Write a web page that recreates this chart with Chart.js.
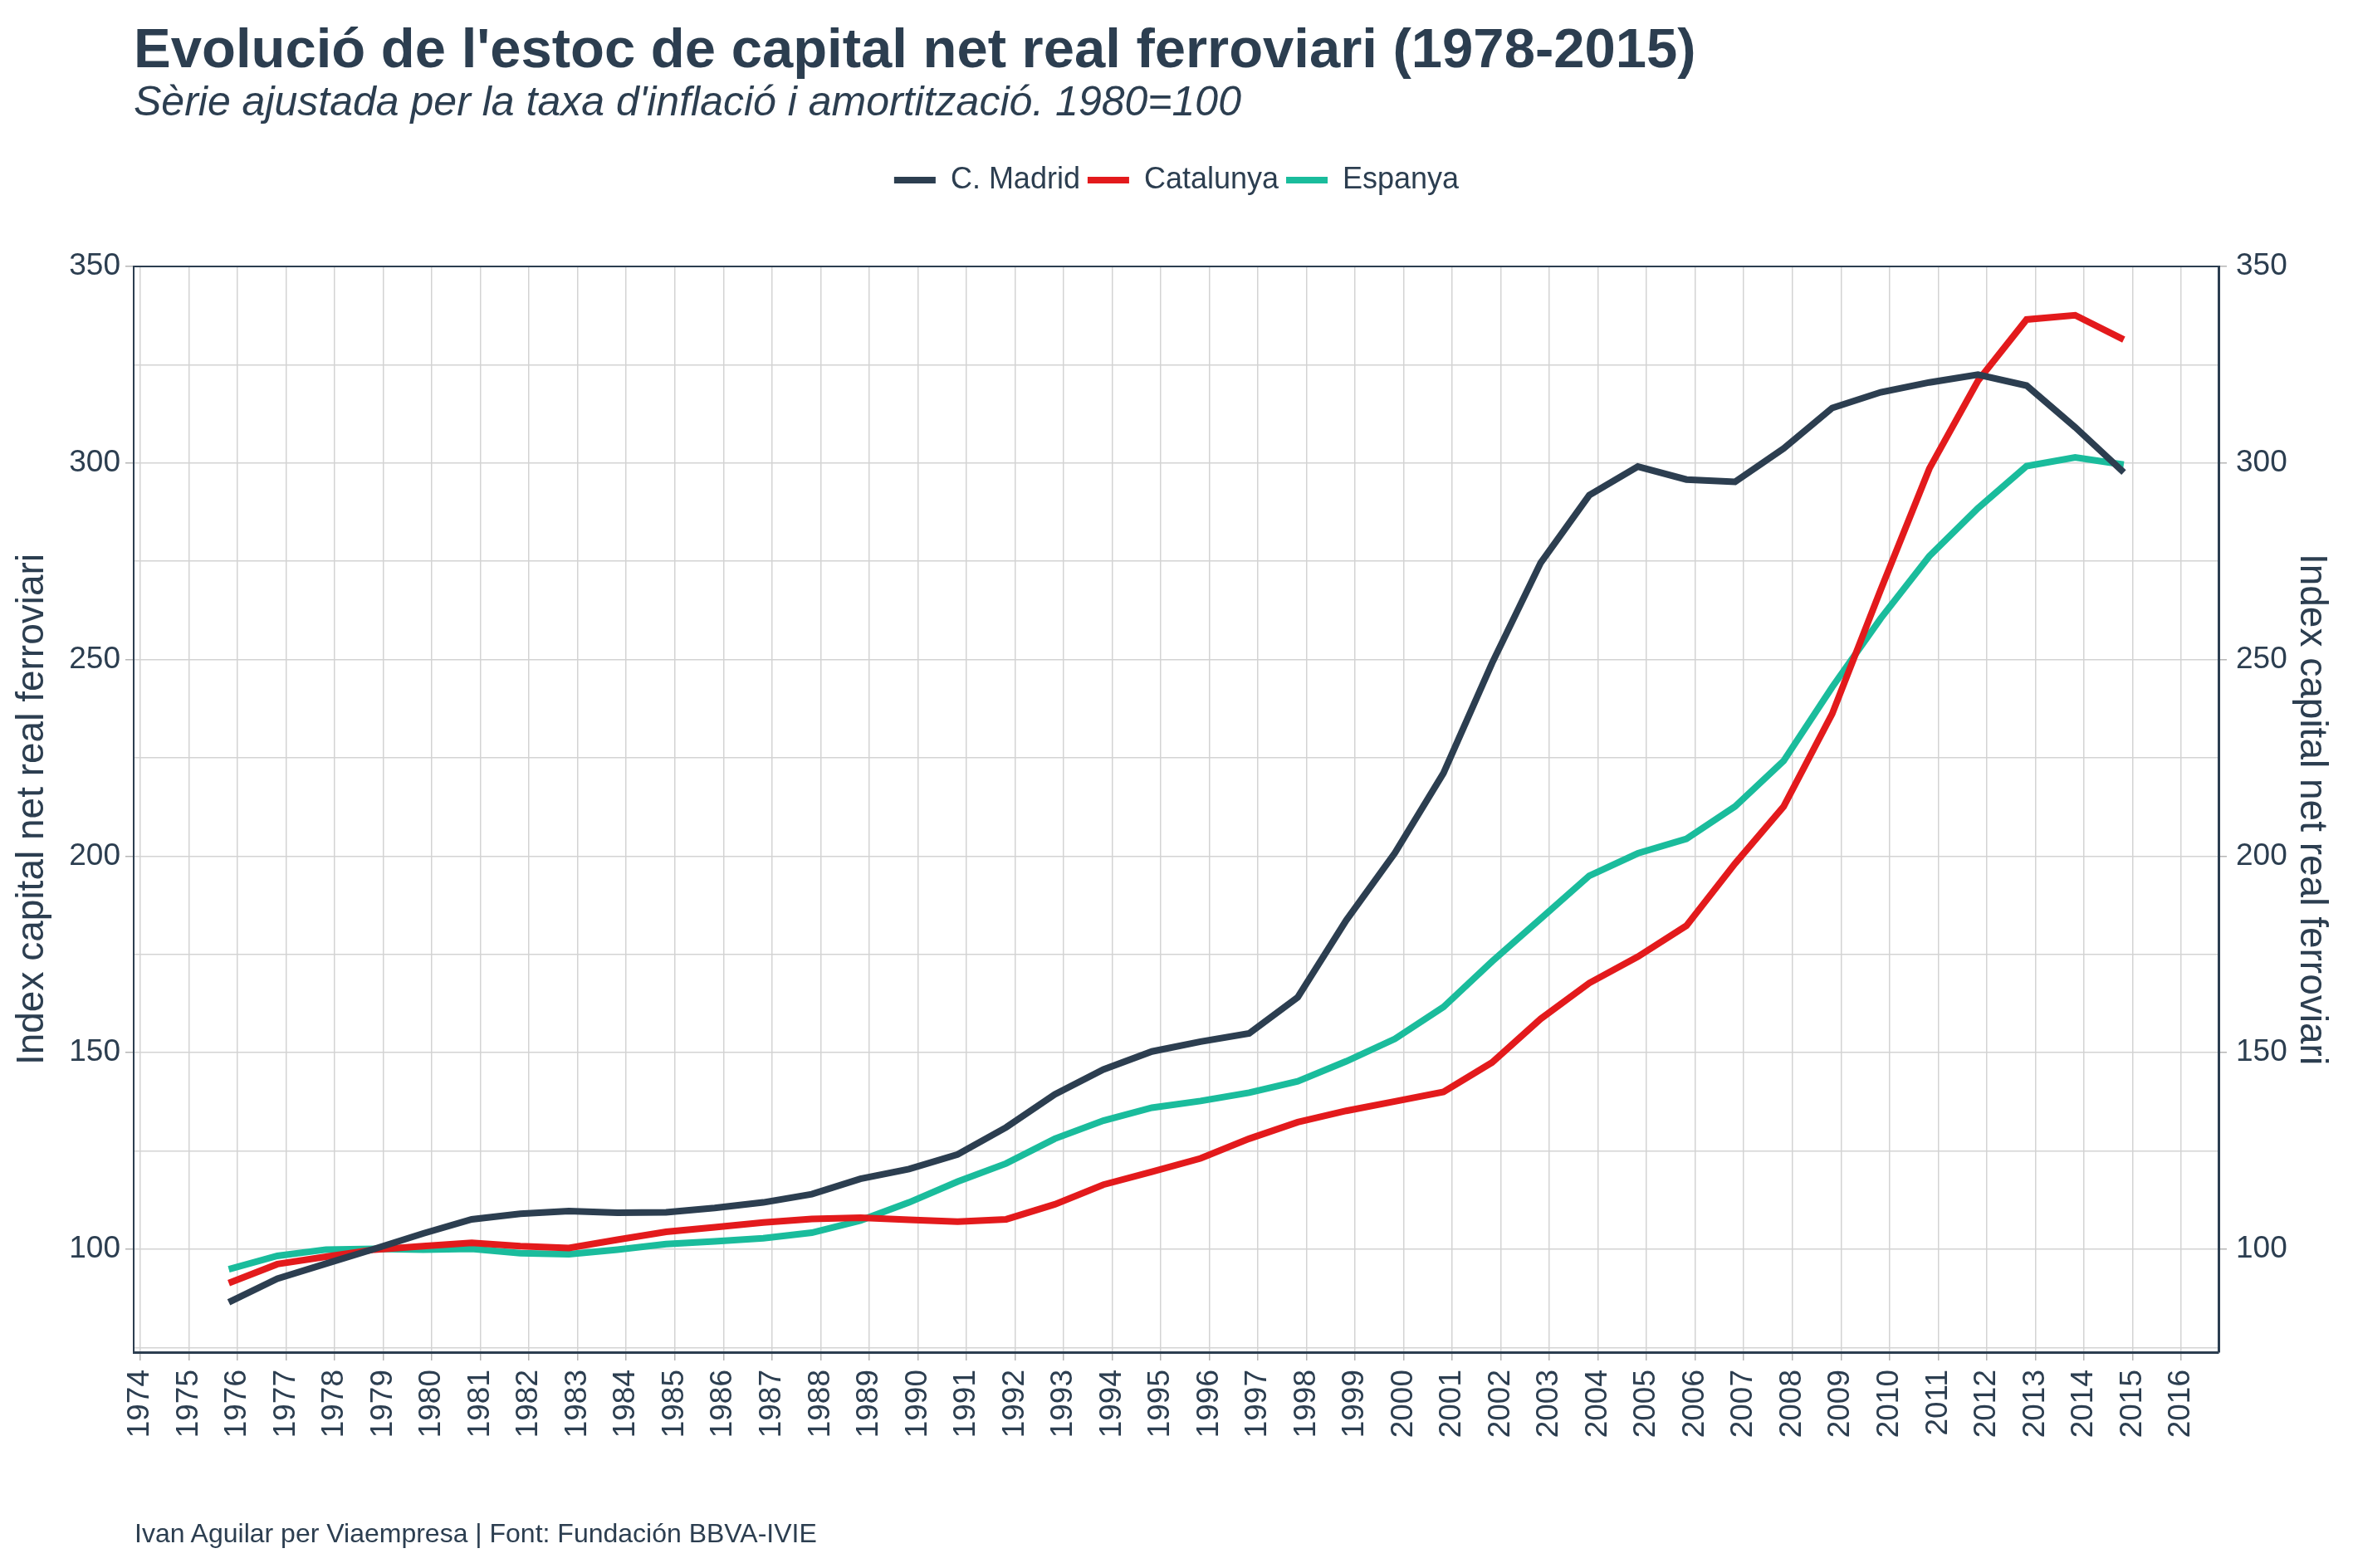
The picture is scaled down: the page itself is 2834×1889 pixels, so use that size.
<!DOCTYPE html>
<html>
<head>
<meta charset="utf-8">
<script src="https://cdn.jsdelivr.net/npm/chart.js@4.4.0/dist/chart.umd.min.js"></script>
<style>
    body { margin: 0; background: #fff; }
    #wrap { position: relative; width: 2834px; height: 1889px; font-family: "Liberation Sans", Arial, sans-serif; color: #2c3e50; }
    #chart { position: absolute; left: 0; top: 0; }
    .title { position: absolute; left: 161px; top: 24px; font-size: 67px; line-height: 67px; font-weight: bold; white-space: nowrap; }
    .subtitle { position: absolute; left: 161px; top: 97px; font-size: 50px; line-height: 50px; font-style: italic; white-space: nowrap; }
    .caption { position: absolute; left: 162px; top: 1831px; font-size: 32px; line-height: 32px; white-space: nowrap; }
</style>
</head>
<body>
<div id="wrap">
    <canvas id="chart" width="2834" height="1889"></canvas>
    <div class="title">Evolució de l'estoc de capital net real ferroviari (1978-2015)</div>
    <div class="subtitle">Sèrie ajustada per la taxa d'inflació i amortització. 1980=100</div>
    <div class="caption">Ivan Aguilar per Viaempresa | Font: Fundación BBVA-IVIE</div>
</div>
<script>
const years = [1976, 1977, 1978, 1979, 1980, 1981, 1982, 1983, 1984, 1985,
    1986, 1987, 1988, 1989, 1990, 1991, 1992, 1993, 1994, 1995,
    1996, 1997, 1998, 1999, 2000, 2001, 2002, 2003, 2004, 2005,
    2006, 2007, 2008, 2009, 2010, 2011, 2012, 2013, 2014, 2015];

const madrid = [86.5, 92.5, 96.3, 100.1, 104.0, 107.6, 109.0, 109.7, 109.3, 109.4,
    110.5, 111.9, 114.0, 117.9, 120.4, 124.1, 131.0, 139.4, 145.7, 150.3,
    152.8, 154.9, 164.1, 183.7, 200.8, 221.1, 249.1, 274.6, 291.8, 299.1,
    295.8, 295.2, 303.7, 314.0, 318.0, 320.5, 322.5, 319.7, 309.1, 297.6];

const catalunya = [91.4, 96.2, 98.1, 99.9, 100.8, 101.6, 100.8, 100.3, 102.4, 104.4,
    105.6, 106.8, 107.7, 108.0, 107.5, 107.0, 107.6, 111.4, 116.4, 119.7,
    123.1, 128.1, 132.3, 135.2, 137.6, 140.0, 147.5, 158.6, 167.7, 174.4,
    182.3, 198.1, 212.6, 236.2, 267.8, 298.6, 320.9, 336.5, 337.6, 331.4];

const espanya = [94.9, 98.3, 99.9, 100.1, 99.9, 100.1, 99.0, 98.7, 99.9, 101.3,
    102.0, 102.8, 104.2, 107.3, 111.9, 117.2, 121.8, 128.1, 132.7, 136.0,
    137.7, 139.8, 142.7, 147.8, 153.5, 161.6, 173.2, 184.1, 195.0, 200.7,
    204.4, 212.6, 224.2, 243.0, 260.5, 276.3, 288.5, 299.2, 301.4, 299.6];

const seriesNames = ['C. Madrid', 'Catalunya', 'Espanya'];
const seriesColors = ['#2c3e50', '#e31a1c', '#1abc9c'];
const axisTitle = 'Index capital net real ferroviari';

// values are year-end figures, drawn slightly before the year's tick
const pointShift = 0.18;
const textColor = '#2c3e50';
const gridColor = '#d3d3d3';
const fontFamily = '"Liberation Sans", Arial, sans-serif';

const toPoints = values => values.map((v, i) => ({ x: years[i] - pointShift, y: v }));

// extra room between the legend and the plot
const legendGap = {
    id: 'legendGap',
    beforeInit(chart) {
        const fit = chart.legend.fit;
        chart.legend.fit = function () {
            fit.bind(chart.legend)();
            this.height += 76;
        };
    }
};

// top edge of the panel frame
const topFrame = {
    id: 'topFrame',
    afterDraw(chart) {
        const { ctx, chartArea } = chart;
        ctx.save();
        ctx.strokeStyle = textColor;
        ctx.lineWidth = 2;
        ctx.beginPath();
        ctx.moveTo(chartArea.left, chartArea.top);
        ctx.lineTo(chartArea.right, chartArea.top);
        ctx.stroke();
        ctx.restore();
    }
};

const majorOnly = ctx => (ctx.tick && ctx.tick.value % 50 === 0) ? '#b5b5b5' : 'rgba(0,0,0,0)';

new Chart(document.getElementById('chart'), {
    type: 'line',
    data: {
        datasets: [madrid, catalunya, espanya].map((values, i) => ({
            label: seriesNames[i],
            data: toPoints(values),
            borderColor: seriesColors[i],
            backgroundColor: seriesColors[i],
            borderWidth: 8,
            pointRadius: 0,
            tension: 0,
            yAxisID: 'y'
        }))
    },
    options: {
        responsive: false,
        animation: false,
        events: [],
        layout: { padding: { top: 190, left: 0, right: 0, bottom: 100 } },
        plugins: {
            legend: {
                position: 'top',
                labels: {
                    boxWidth: 50,
                    boxHeight: 8,
                    padding: 9,
                    color: textColor,
                    font: { family: fontFamily, size: 36 },
                    generateLabels(chart) {
                        return Chart.defaults.plugins.legend.labels.generateLabels(chart)
                            .map(item => Object.assign(item, { lineWidth: 0 }));
                    }
                }
            },
            tooltip: { enabled: false }
        },
        scales: {
            x: {
                type: 'linear',
                min: 1973.863,
                max: 2016.77,
                afterFit(scale) { scale.height = 160; },
                ticks: {
                    stepSize: 1,
                    includeBounds: false,
                    autoSkip: false,
                    minRotation: 90,
                    maxRotation: 90,
                    padding: 11,
                    color: textColor,
                    font: { family: fontFamily, size: 37 },
                    callback: v => String(v)
                },
                grid: { color: gridColor, lineWidth: 1.5, tickLength: 10, tickColor: '#b5b5b5' },
                border: { color: textColor, width: 3 }
            },
            y: {
                position: 'left',
                min: 73.8,
                max: 350,
                afterFit(scale) { scale.width = 161; },
                ticks: {
                    stepSize: 25,
                    includeBounds: false,
                    padding: 6,
                    color: textColor,
                    font: { family: fontFamily, size: 37 },
                    callback: v => v % 50 === 0 ? String(v) : ''
                },
                grid: { color: gridColor, lineWidth: 1.5, tickLength: 10, tickColor: majorOnly },
                border: { color: textColor, width: 2 },
                title: {
                    display: true,
                    text: axisTitle,
                    color: textColor,
                    padding: { top: 12, bottom: 0 },
                    font: { family: fontFamily, size: 46 }
                }
            },
            y2: {
                position: 'right',
                min: 73.8,
                max: 350,
                afterFit(scale) { scale.width = 162; },
                ticks: {
                    stepSize: 25,
                    includeBounds: false,
                    padding: 11,
                    color: textColor,
                    font: { family: fontFamily, size: 37 },
                    callback: v => v % 50 === 0 ? String(v) : ''
                },
                grid: { drawOnChartArea: false, tickLength: 10, lineWidth: 1.5, tickColor: majorOnly },
                border: { color: textColor, width: 3 },
                title: {
                    display: true,
                    text: axisTitle,
                    color: textColor,
                    padding: { top: 23, bottom: 0 },
                    font: { family: fontFamily, size: 46 }
                }
            }
        }
    },
    plugins: [legendGap, topFrame]
});
</script>
</body>
</html>
